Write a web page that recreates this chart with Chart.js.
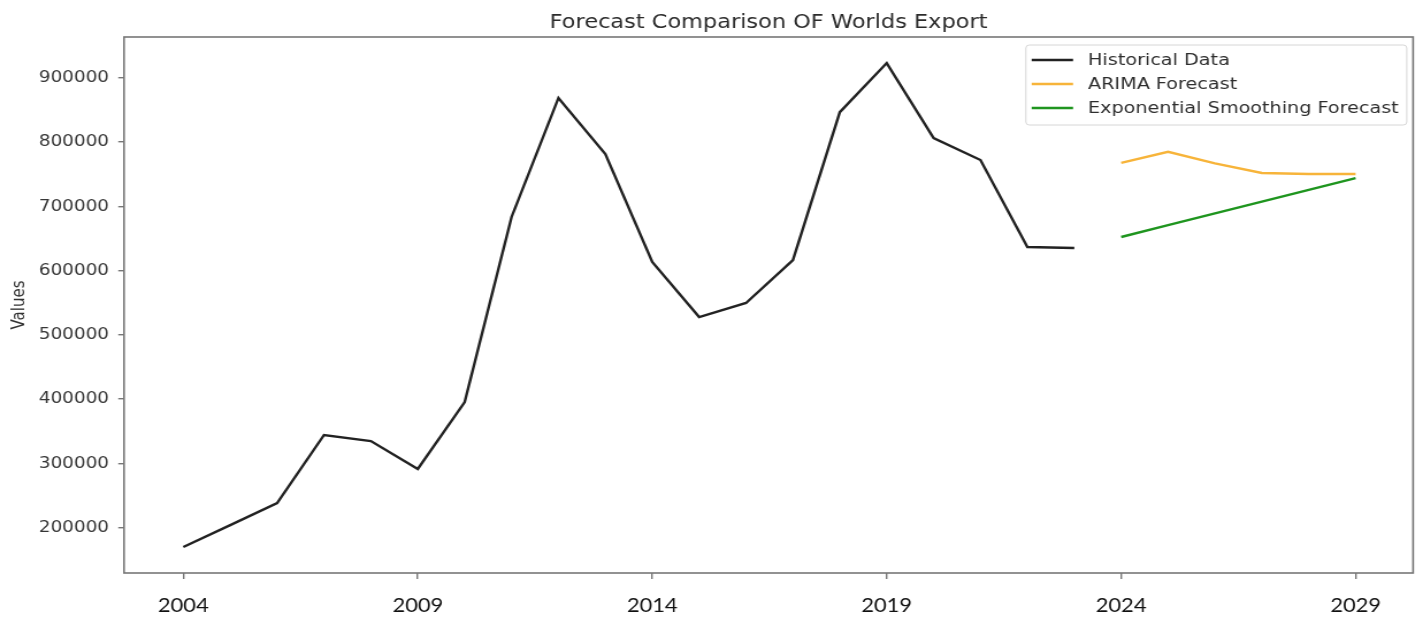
<!DOCTYPE html>
<html>
<head>
<meta charset="utf-8">
<script src="https://cdn.jsdelivr.net/npm/chart.js@4"></script>
<style>
  html, body { margin: 0; padding: 0; background: #fff; overflow: hidden; }
  #wrap { width: 1237px; height: 617px; transform: scaleX(1.15036); transform-origin: 0 0; }
</style>
</head>
<body>
<div id="wrap"><canvas id="forecastChart"></canvas></div>
<script>
// Data
const histYears = [2004, 2005, 2006, 2007, 2008, 2009, 2010, 2011, 2012, 2013,
                   2014, 2015, 2016, 2017, 2018, 2019, 2020, 2021, 2022, 2023];
const histValues = [170000, 204000, 238400, 344300, 334900, 291400, 395600, 683600, 868800, 781600,
                    613500, 527900, 549700, 616600, 846800, 923100, 806400, 772200, 636900, 635400];
const forecastYears = [2024, 2025, 2026, 2027, 2028, 2029];
const arimaValues = [767800, 785000, 767000, 752000, 750400, 750400];
const esValues = [652400, 670800, 689200, 707500, 725900, 744200];
const xTicks = [2004, 2009, 2014, 2019, 2024, 2029];
const yTicks = [200000, 300000, 400000, 500000, 600000, 700000, 800000, 900000];

const toPoints = (xs, ys) => xs.map((x, i) => ({ x: x, y: ys[i] }));

// Rahmen, Titel und Legende wie bei matplotlib
const mplLook = {
  id: "mplLook",
  afterDraw(chart) {
    const { ctx, chartArea: a } = chart;
    ctx.save();

    // frame
    ctx.strokeStyle = "#777";
    ctx.lineWidth = 1.6;
    ctx.strokeRect(a.left, a.top, a.right - a.left, a.bottom - a.top);

    // title
    ctx.fillStyle = "#2b2b2b";
    ctx.font = '19.5px "DejaVu Sans"';
    ctx.textAlign = "center";
    ctx.textBaseline = "alphabetic";
    ctx.fillText("Forecast Comparison OF Worlds Export", (a.left + a.right) / 2, 28);

    // legend
    ctx.font = '16.7px "DejaVu Sans"';
    const sets = chart.data.datasets;
    const maxW = Math.max(...sets.map((d) => ctx.measureText(d.label).width));
    const w = 54 + maxW + 7;
    const h = 80;
    const right = a.right - 5.5;
    const left = right - w;
    const top = a.top + 8;
    ctx.beginPath();
    ctx.roundRect(left, top, w, h, 3);
    ctx.fillStyle = "rgba(255,255,255,0.85)";
    ctx.fill();
    ctx.strokeStyle = "#d6d6d6";
    ctx.lineWidth = 1;
    ctx.stroke();

    ctx.textAlign = "left";
    ctx.textBaseline = "middle";
    sets.forEach((d, i) => {
      const y = top + 15 + i * 24;
      ctx.strokeStyle = d.borderColor;
      ctx.lineWidth = 2.4;
      ctx.beginPath();
      ctx.moveTo(left + 5, y);
      ctx.lineTo(left + 41, y);
      ctx.stroke();
      ctx.fillStyle = "#2e2e2e";
      ctx.fillText(d.label, left + 54, y + 1);
    });

    ctx.restore();
  },
};

new Chart(document.getElementById("forecastChart"), {
  type: "line",
  data: {
    datasets: [
      {
        label: "Historical Data",
        data: toPoints(histYears, histValues),
        borderColor: "#222222",
        borderWidth: 2.4,
        pointRadius: 0,
        tension: 0,
      },
      {
        label: "ARIMA Forecast",
        data: toPoints(forecastYears, arimaValues),
        borderColor: "#f7b43a",
        borderWidth: 2.4,
        pointRadius: 0,
        tension: 0,
      },
      {
        label: "Exponential Smoothing Forecast",
        data: toPoints(forecastYears, esValues),
        borderColor: "#1f951f",
        borderWidth: 2.4,
        pointRadius: 0,
        tension: 0,
      },
    ],
  },
  options: {
    responsive: true,
    maintainAspectRatio: false,
    animation: false,
    layout: { padding: { top: 37, right: 8.6, left: 0, bottom: 0 } },
    plugins: {
      legend: { display: false },
      title: { display: false },
      tooltip: { enabled: false },
    },
    scales: {
      x: {
        type: "linear",
        min: 2002.735,
        max: 2030.226,
        afterBuildTicks: (scale) => { scale.ticks = xTicks.map((v) => ({ value: v })); },
        afterFit: (scale) => { scale.height = 44; },
        border: { display: false },
        grid: { drawOnChartArea: false, drawTicks: true, tickLength: 6, color: "#777", lineWidth: 1.4 },
        ticks: {
          color: "#111",
          font: { family: "Lato", size: 19 },
          padding: 15,
          maxRotation: 0,
          callback: (v) => String(v),
        },
      },
      y: {
        type: "linear",
        min: 129500,
        max: 963700,
        afterBuildTicks: (scale) => { scale.ticks = yTicks.map((v) => ({ value: v })); },
        afterFit: (scale) => { scale.width = 107.8; },
        border: { display: false },
        grid: { drawOnChartArea: false, drawTicks: true, tickLength: 5, color: "#777", lineWidth: 1.4 },
        ticks: {
          color: "#363636",
          font: { family: "DejaVu Sans", size: 16 },
          padding: 8,
          callback: (v) => String(v),
        },
        title: {
          display: true,
          text: "Values",
          color: "#333",
          font: { family: "DejaVu Sans", size: 15 },
          padding: { top: 8, bottom: 0 },
        },
      },
    },
  },
  plugins: [mplLook],
});
</script>
</body>
</html>
